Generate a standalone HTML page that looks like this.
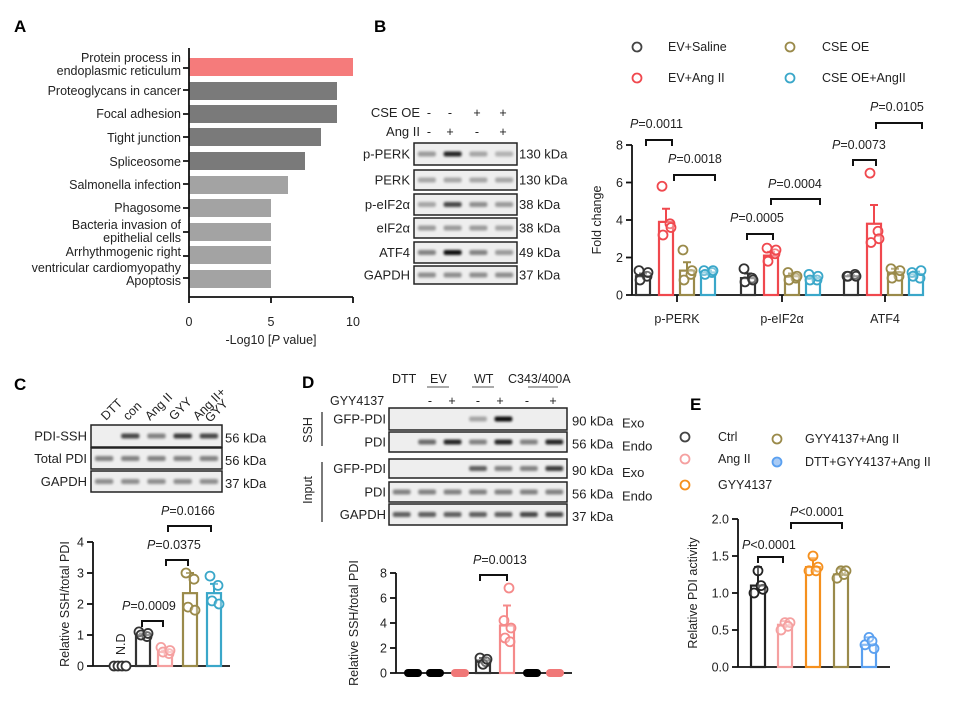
<!DOCTYPE html>
<html><head><meta charset="utf-8"><style>
html,body{margin:0;padding:0;background:#fff}
svg{display:block;font-family:"Liberation Sans",Arial,sans-serif}
</style></head><body>
<svg id="s" width="961" height="708" viewBox="0 0 961 708" xmlns="http://www.w3.org/2000/svg">
<defs><filter id="bl" x="-20%" y="-100%" width="140%" height="300%"><feGaussianBlur stdDeviation="1.2"/></filter></defs>
<g font-weight="bold" font-size="17" fill="#000">
<text x="14" y="32">A</text><text x="374" y="32">B</text><text x="14" y="390">C</text><text x="302" y="388">D</text><text x="690" y="410">E</text>
</g>
<!-- Panel A -->
<g fill="#222" font-size="12.5" text-anchor="end">
<rect x="189" y="58" width="164" height="18" fill="#f57b7b"/>
<rect x="189" y="82" width="148" height="18" fill="#7a7a7a"/>
<rect x="189" y="105" width="148" height="18" fill="#7a7a7a"/>
<rect x="189" y="128" width="132" height="18" fill="#7a7a7a"/>
<rect x="189" y="152" width="116" height="18" fill="#7a7a7a"/>
<rect x="189" y="176" width="99" height="18" fill="#a3a3a3"/>
<rect x="189" y="199" width="82" height="18" fill="#a3a3a3"/>
<rect x="189" y="223" width="82" height="18" fill="#a3a3a3"/>
<rect x="189" y="246" width="82" height="18" fill="#a3a3a3"/>
<rect x="189" y="270" width="82" height="18" fill="#a3a3a3"/>
<text x="181" y="62">Protein process in</text><text x="181" y="75">endoplasmic reticulum</text>
<text x="181" y="95">Proteoglycans in cancer</text>
<text x="181" y="118">Focal adhesion</text>
<text x="181" y="142">Tight junction</text>
<text x="181" y="166">Spliceosome</text>
<text x="181" y="189">Salmonella infection</text>
<text x="181" y="212">Phagosome</text>
<text x="181" y="229">Bacteria invasion of</text><text x="181" y="242">epithelial cells</text>
<text x="181" y="256">Arrhythmogenic right</text><text x="181" y="272">ventricular cardiomyopathy</text>
<text x="181" y="285">Apoptosis</text>
</g>
<g stroke="#111" stroke-width="1.8" fill="none">
<path d="M189 48V297H353M189 297v6M271 297v6M353 297v6"/>
<path d="M183 68h6M183 90h6M183 114h6M183 137h6M183 161h6M183 184h6M183 208h6M183 232h6M183 256h6M183 278h6"/>
</g>
<g font-size="12.5" text-anchor="middle" fill="#222">
<text x="189" y="326">0</text><text x="271" y="326">5</text><text x="353" y="326">10</text>
<text x="271" y="344">-Log10 [<tspan font-style="italic">P</tspan> value]</text>
</g>
<g id="dyn"></g>
</svg>
<script>
var NS="http://www.w3.org/2000/svg",G=document.getElementById("dyn");
function el(t,a,txt){var e=document.createElementNS(NS,t);for(var k in a)e.setAttribute(k,a[k]);if(txt!==undefined)e.textContent=txt;G.appendChild(e);return e;}
function T(x,y,s,o){o=o||{};var a={x:x,y:y,"font-size":o.fs||12.5,fill:o.c||"#222","text-anchor":o.a||"start"};if(o.r!==undefined){a.transform="rotate("+o.r+" "+x+" "+y+")";}var e=el("text",a);
 if(s.indexOf("P")===0&&o.p){var t1=document.createElementNS(NS,"tspan");t1.setAttribute("font-style","italic");t1.textContent="P";e.appendChild(t1);e.appendChild(document.createTextNode(s.slice(1)));}else e.textContent=s;return e;}
function L(d,c,w){el("path",{d:d,stroke:c||"#111","stroke-width":w||1.8,fill:"none"});}
function blot(x1,x2,ys,bands){ys.forEach(function(r,i){el("rect",{x:x1,y:r[0],width:x2-x1,height:r[1]-r[0],fill:"#eee",stroke:"#222","stroke-width":1.5});
 var n=bands[i].length,w=(x2-x1)/n;bands[i].forEach(function(v,j){if(v>0)el("rect",{x:x1+w*j+w*0.15,y:(r[0]+r[1])/2-2.5,width:w*0.7,height:5,rx:2,fill:"#000",opacity:v,filter:"url(#bl)"});});});}
function br(x1,x2,y){L("M"+x1+" "+(y+6)+"V"+y+"H"+x2+"V"+(y+6),"#111",2);}
function circ(x,y,c,f){el("circle",{cx:x,cy:y,r:4.5,fill:f||"#fff",stroke:c,"stroke-width":1.8});}
function bar(cx,w,y0,yv,c,err,pts){el("rect",{x:cx-w/2,y:yv,width:w,height:y0-yv,fill:"#fff",stroke:c,"stroke-width":2.2});
 if(err){L("M"+cx+" "+yv+"V"+(yv-err)+"M"+(cx-4)+" "+(yv-err)+"h8",c,2);}
 (pts||[]).forEach(function(p){circ(cx+p[0],p[1],c,"rgba(255,255,255,0.3)");});}
function yaxis(x,y0,yt,vals,lab,labx,tick){L("M"+x+" "+y0+"V"+yt[yt.length-1]);vals.forEach(function(v,i){L("M"+(x-6)+" "+yt[i]+"h6");T(x-9,yt[i]+4.5,v,{a:"end"});});
 var cy=(y0+yt[yt.length-1])/2;T(labx,cy,lab,{a:"middle",r:-90});}

// Panel B blot
T(420,117,"CSE OE",{a:"end",fs:13});T(420,136,"Ang II",{a:"end",fs:13});
[["-","-","+","+"],["-","+","-","+"]].forEach(function(r,k){[429,450,477,503].forEach(function(x,i){T(x,117+19*k,r[i],{a:"middle"});});});
var bys=[[143,165],[170,190],[194,215],[218,238],[242,263],[266,284]];
blot(414,517,bys,[[.35,.85,.3,.25],[.3,.3,.3,.3],[.3,.7,.4,.35],[.35,.35,.35,.3],[.45,.95,.45,.35],[.4,.4,.4,.4]]);
["p-PERK","PERK","p-eIF2α","eIF2α","ATF4","GAPDH"].forEach(function(s,i){var y=(bys[i][0]+bys[i][1])/2+4.5;T(410,y,s,{a:"end",fs:13});T(519,y,["130 kDa","130 kDa","38 kDa","38 kDa","49 kDa","37 kDa"][i],{fs:13});});
// B legend
circ(637,47,"#444");T(668,51,"EV+Saline");circ(637,78,"#f0484e");T(668,82,"EV+Ang II");
circ(790,47,"#9a8a4a");T(822,51,"CSE OE");circ(790,78,"#3aa7c9");T(822,82,"CSE OE+AngII");
// B chart
var by0=295,bs=18.75;
yaxis(632,by0,[295,257.5,220,182.5,145],["0","2","4","6","8"],"Fold change",601);
L("M632 295H920");[677,782,885].forEach(function(x){L("M"+x+" 295v7");});
T(677,323,"p-PERK",{a:"middle"});T(782,323,"p-eIF2α",{a:"middle"});T(885,323,"ATF4",{a:"middle"});
var cols=["#333","#f0484e","#9a8a4a","#3aa7c9"],offs=[-34,-11,10,31];
var vals=[[1,3.9,1.3,1.2],[0.9,2.1,1.0,0.9],[1.0,3.8,1.2,1.1]],errs=[[.15,.7,.45,.1],[.25,.2,.15,.1],[.05,1,.2,.15]];
var ptsB=[[[1.3,1.0,0.8,1.2],[5.8,3.8,3.2,3.6],[2.4,1.1,0.8,1.3],[1.3,1.2,1.1,1.3]],[[1.4,0.9,0.7,0.8],[2.5,2.2,1.8,2.4],[1.2,0.9,0.8,1.0],[1.1,0.8,0.8,1.0]],[[1.0,1.1,1.0,1.0],[6.5,3.4,2.8,3.0],[1.4,1.0,0.9,1.3],[1.2,0.9,1.0,1.3]]];
[677,782,885].forEach(function(g,gi){offs.forEach(function(o,i){var v=vals[gi][i];
 bar(g+o,14,by0,by0-v*bs,cols[i],errs[gi][i]*bs,ptsB[gi][i].map(function(p,k){return[[-4,4,-3,5][k],by0-p*bs];}));});});
T(630,128,"P=0.0011",{p:1});br(646,672,140);T(668,163,"P=0.0018",{p:1});br(674,715,175);
T(730,222,"P=0.0005",{p:1});br(747,773,234);T(768,188,"P=0.0004",{p:1});br(771,820,199);
T(832,149,"P=0.0073",{p:1});br(853,876,160);T(870,111,"P=0.0105",{p:1});br(876,922,123);

// Panel C blot
[["DTT",106],["con",128],["Ang II",150],["GYY",174],["Ang II+",198]].forEach(function(a){T(a[1],421,a[0],{r:-45});});
T(210,423,"GYY",{r:-45});
var cys=[[425,447],[448,469],[471,492]];
blot(91,222,cys,[[0,.7,.45,.75,.7],[.45,.45,.45,.45,.45],[.4,.4,.4,.4,.4]]);
["PDI-SSH","Total PDI","GAPDH"].forEach(function(s,i){var y=(cys[i][0]+cys[i][1])/2+4.5;T(87,y,s,{a:"end",fs:13});T(225,y+2,["56 kDa","56 kDa","37 kDa"][i],{fs:13});});
// C chart
var cy0=666,cs=31;
yaxis(93,cy0,[666,635,604,573,542],["0","1","2","3","4"],"Relative SSH/total PDI",69);
L("M93 666H230");
var cc=["#333","#333","#f5a0a0","#9a8a4a","#3aa7c9"],cx=[120,143,165,190,214],cv=[0,1.0,0.45,2.35,2.35],ce=[0,.05,.05,.65,.3];
var cp=[[0,0,0,0],[1.1,0.95,1.0,1.05],[0.6,0.4,0.45,0.5],[3.0,2.8,1.9,1.8],[2.9,2.6,2.1,2.0]];
cx.forEach(function(x,i){if(i===0){[-6,-2,2,6].forEach(function(d){circ(x+d,666,"#333");});return;}
 bar(x,14,cy0,cy0-cv[i]*cs,cc[i],ce[i]*cs,cp[i].map(function(p,k){return[[-4,4,-2,5][k],cy0-p*cs];}));});
T(125,655,"N.D",{r:-90});
T(122,610,"P=0.0009",{p:1});br(142,163,621);T(147,549,"P=0.0375",{p:1});br(166,188,560);T(161,515,"P=0.0166",{p:1});br(168,211,526);

// Panel D blot
T(392,383,"DTT");T(430,383,"EV");L("M427 387h22","#555",1);T(474,383,"WT");L("M472 387h22","#555",1);T(508,383,"C343/400A");L("M528 387h30","#555",1);
T(330,405,"GYY4137");["-","+","-","+","-","+"].forEach(function(s,i){T([430,452,478,500,527,553][i],405,s,{a:"middle"});});
var dys=[[408,430],[432,452],[459,478],[482,502],[504,525]];
blot(389,567,dys,[[0,0,0,.3,.95,0,0],[0,.55,.85,.45,.85,.45,.85],[0,0,0,.6,.45,.45,.75],[.45,.45,.45,.45,.45,.45,.45],[.6,.6,.6,.6,.6,.7,.7]]);
["GFP-PDI","PDI","GFP-PDI","PDI","GAPDH"].forEach(function(s,i){var y=(dys[i][0]+dys[i][1])/2+4.5;T(386,y,s,{a:"end",fs:13});T(572,y+2,["90 kDa","56 kDa","90 kDa","56 kDa","37 kDa"][i],{fs:13});if(i<4)T(622,y+4,["Exo","Endo","Exo","Endo"][i],{fs:13});});
T(312,430,"SSH",{a:"middle",r:-90});L("M322 412V446","#333",1.3);
T(312,490,"Input",{a:"middle",r:-90});L("M322 462V522","#333",1.3);
// D chart
var dy0=673,ds=12.5;
yaxis(396,dy0,[673,648,623,598,573],["0","2","4","6","8"],"Relative SSH/total PDI",358);
L("M396 673H572");
var dxs=[413,435,460,483,507,532,555],dc=["#000","#000","#f07878","#333","#f58a8a","#000","#f07878"];
dxs.forEach(function(x,i){if(i===3){bar(x,14,dy0,dy0-1.0*ds,dc[i],.2*ds,[[-3,dy0-1.2*ds],[3,dy0-0.9*ds],[0,dy0-0.7*ds],[4,dy0-1.1*ds]]);return;}
 if(i===4){bar(x,14,dy0,dy0-3.8*ds,dc[i],1.6*ds,[[2,dy0-6.8*ds],[-3,dy0-4.2*ds],[4,dy0-3.6*ds],[-2,dy0-2.8*ds],[3,dy0-2.5*ds]]);return;}
 el("rect",{x:x-9,y:dy0-4,width:18,height:8,rx:4,fill:dc[i]});});
T(473,564,"P=0.0013",{p:1});br(480,507,575);

// Panel E legend
circ(685,437,"#444");T(718,441,"Ctrl");circ(685,459,"#f5a0a0");T(718,463,"Ang II");circ(685,485,"#f5901e");T(718,489,"GYY4137");
circ(777,439,"#9a8a4a");T(805,443,"GYY4137+Ang II");circ(777,462,"#5aa0f0","#a9cbf5");T(805,466,"DTT+GYY4137+Ang II");
// E chart
var ey0=667,es=74;
yaxis(738,ey0,[667,630,593,556,519],["0.0","0.5","1.0","1.5","2.0"],"Relative PDI activity",697);
L("M738 667H890");
var ex=[758,785,813,841,869],ec=["#222","#f5a0a0","#f5901e","#9a8a4a","#5aa0f0"],ev=[1.1,0.57,1.35,1.25,0.3],ee=[.25,.05,.12,.08,.1];
var ep=[[1.3,1.0,1.05,1.1],[0.6,0.5,0.6,0.55],[1.5,1.3,1.35,1.3],[1.3,1.2,1.3,1.25],[0.4,0.3,0.25,0.35]];
ex.forEach(function(x,i){bar(x,14,ey0,ey0-ev[i]*es,ec[i],ee[i]*es,ep[i].map(function(p,k){return[[0,-4,5,3][k],ey0-p*es];}));});
T(742,549,"P<0.0001",{p:1});br(758,783,557);T(790,516,"P<0.0001",{p:1});br(791,842,523);
</script>
</body></html>
